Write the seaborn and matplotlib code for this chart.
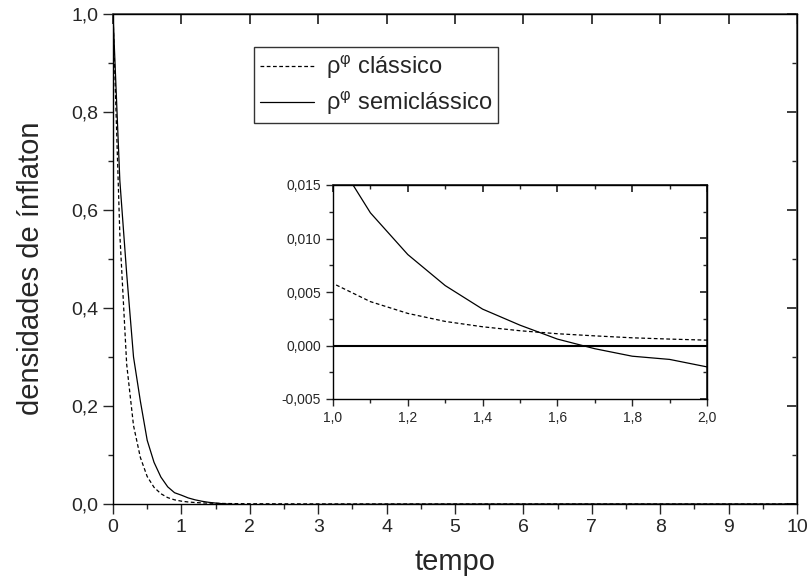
import matplotlib
matplotlib.use("Agg")
import matplotlib.pyplot as plt
import matplotlib.ticker as mticker
import seaborn as sns
import pandas as pd

# ---- data ----
t_main = [0.0, 0.1, 0.2, 0.3, 0.4, 0.5, 0.6, 0.7, 0.8, 0.9,
          1.0, 1.1, 1.2, 1.3, 1.4, 1.5, 1.6, 1.7, 1.8, 1.9, 2.0,
          3.0, 4.0, 5.0, 6.0, 7.0, 8.0, 9.0, 10.0]
rho_classico = [1.0, 0.55, 0.285, 0.16, 0.095, 0.056, 0.034, 0.021, 0.013, 0.0085,
                0.0058, 0.0041, 0.0030, 0.00225, 0.00175, 0.00138, 0.0011, 0.0009, 0.00072, 0.0006, 0.0005,
                0.0002, 0.0001, 0.00005, 0.00003, 0.00002, 0.00001, 0.00001, 0.0]
rho_semiclassico = [1.0, 0.66, 0.47, 0.30, 0.21, 0.13, 0.085, 0.055, 0.035, 0.023,
                    0.018, 0.0124, 0.0085, 0.0056, 0.0034, 0.0019, 0.0006, -0.0003, -0.001, -0.0013, -0.002,
                    -0.001, -0.0005, -0.0002, -0.0001, 0.0, 0.0, 0.0, 0.0]
labels = [r"$\mathregular{ρ^{φ}}$ clássico", r"$\mathregular{ρ^{φ}}$ semiclássico"]
main_xticks = list(range(0, 11))
main_yticks = [0.0, 0.2, 0.4, 0.6, 0.8, 1.0]
inset_xticks = [1.0, 1.2, 1.4, 1.6, 1.8, 2.0]
inset_yticks = [-0.005, 0.000, 0.005, 0.010, 0.015]

sns.set_theme(style="ticks")
plt.rcParams["font.family"] = ["Liberation Sans", "DejaVu Sans"]
plt.rcParams["mathtext.fontset"] = "custom"
plt.rcParams["mathtext.rm"] = "Liberation Sans"

df = pd.DataFrame({"t": t_main, "c": rho_classico, "s": rho_semiclassico})

fig = plt.figure(figsize=(8.11, 5.86), dpi=100)
W, H = 811, 586
ax = fig.add_axes([113 / W, 1 - 504 / H, (797 - 113) / W, (504 - 14) / H])

sns.lineplot(data=df, x="t", y="c", ax=ax, color="black", lw=0.9,
             linestyle=(0, (3, 2)), label=labels[0])
sns.lineplot(data=df, x="t", y="s", ax=ax, color="black", lw=0.9,
             label=labels[1])
ax.set_xlim(0, 10)
ax.set_ylim(0, 1.0)
ax.set_xticks(main_xticks)
ax.set_yticks(main_yticks)
ax.xaxis.set_minor_locator(mticker.MultipleLocator(0.5))
ax.yaxis.set_minor_locator(mticker.MultipleLocator(0.1))
ax.yaxis.set_major_formatter(mticker.FuncFormatter(lambda v, p: f"{v:.1f}".replace(".", ",")))
ax.xaxis.set_major_formatter(mticker.FuncFormatter(lambda v, p: f"{int(round(v))}"))
ax.tick_params(which="major", direction="out", length=7, width=1, labelsize=14,
               top=False, right=False)
ax.tick_params(which="minor", direction="out", length=3.5, width=1, top=False, right=False)
# inward ticks on top and right
ax2 = ax.secondary_xaxis("top")
ax2.set_xticks(main_xticks)
ax2.xaxis.set_minor_locator(mticker.NullLocator())
ax2.tick_params(which="major", direction="in", length=7, labeltop=False)
ax3 = ax.secondary_yaxis("right")
ax3.set_yticks(main_yticks)
ax3.yaxis.set_minor_locator(mticker.MultipleLocator(0.1))
ax3.tick_params(which="major", direction="in", length=7, labelright=False)
ax3.tick_params(which="minor", direction="in", length=3.5)
for sp in ax.spines.values():
    sp.set_color("black")
    sp.set_linewidth(1)
for s in (ax2, ax3):
    for sp in s.spines.values():
        sp.set_color("#555555")
ax.set_xlabel("tempo", fontsize=21, labelpad=9)
ax.set_ylabel("densidades de ínflaton", fontsize=21)
ax.yaxis.set_label_coords(-0.099, 0.482)

leg = ax.legend(loc="upper left", bbox_to_anchor=((254 - 113) / (797 - 113), 1 - (47 - 14) / 490),
                fontsize=17, frameon=True, fancybox=False, edgecolor="black",
                handlelength=2.3, borderpad=0.25, labelspacing=0.35, handletextpad=0.5,
                borderaxespad=0)
leg.get_frame().set_linewidth(1)

# ---- inset ----
axi = fig.add_axes([333 / W, 1 - 399 / H, (707 - 333) / W, (399 - 185) / H])
sns.lineplot(data=df, x="t", y="c", ax=axi, color="black", lw=0.9,
             linestyle=(0, (3, 2)), legend=False)
sns.lineplot(data=df, x="t", y="s", ax=axi, color="black", lw=0.9, legend=False)
axi.axhline(0, color="black", lw=1.5)
axi.set_xlim(1.0, 2.0)
axi.set_ylim(-0.005, 0.015)
axi.set_xticks(inset_xticks)
axi.set_yticks(inset_yticks)
axi.xaxis.set_minor_locator(mticker.MultipleLocator(0.1))
axi.yaxis.set_minor_locator(mticker.MultipleLocator(0.0025))
axi.xaxis.set_major_formatter(mticker.FuncFormatter(lambda v, p: f"{v:.1f}".replace(".", ",")))
axi.yaxis.set_major_formatter(mticker.FuncFormatter(lambda v, p: f"{v:.3f}".replace(".", ",").replace("-0,000", "0,000")))
axi.tick_params(which="major", direction="out", length=5, width=1, labelsize=10)
axi.tick_params(which="minor", direction="out", length=3, width=1)
bx2 = axi.secondary_xaxis("top")
bx2.set_xticks(inset_xticks)
bx2.xaxis.set_minor_locator(mticker.MultipleLocator(0.1))
bx2.tick_params(which="major", direction="in", length=5, labeltop=False)
bx2.tick_params(which="minor", direction="in", length=3)
by2 = axi.secondary_yaxis("right")
by2.set_yticks(inset_yticks)
by2.yaxis.set_minor_locator(mticker.MultipleLocator(0.0025))
by2.tick_params(which="major", direction="in", length=5, labelright=False)
by2.tick_params(which="minor", direction="in", length=3)
axi.set_xlabel("")
axi.set_ylabel("")
for sp in axi.spines.values():
    sp.set_color("black")
    sp.set_linewidth(1)

fig.savefig("out.png", dpi=100)
